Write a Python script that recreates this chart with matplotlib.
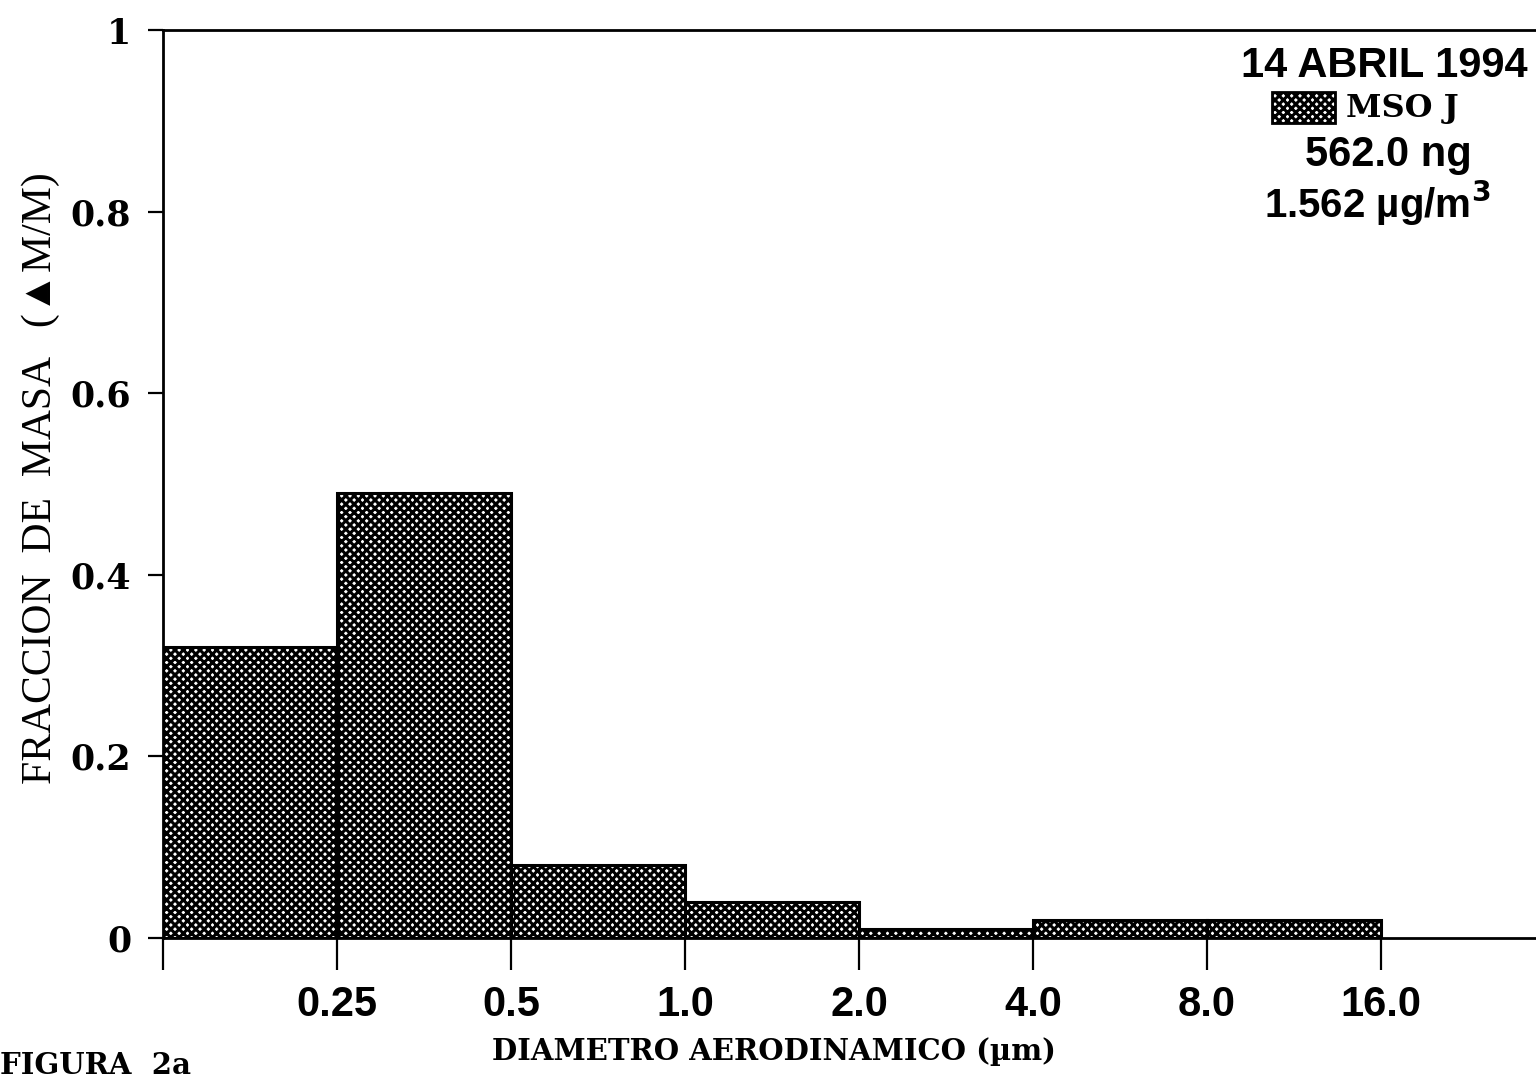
import matplotlib
matplotlib.use("Agg")
import matplotlib.pyplot as plt
from matplotlib.patches import Rectangle

# Data
bin_edges = [0.125, 0.25, 0.5, 1.0, 2.0, 4.0, 8.0, 16.0]
mass_fraction = [0.32, 0.49, 0.08, 0.04, 0.01, 0.02, 0.02]
xtick_vals = [0.125, 0.25, 0.5, 1.0, 2.0, 4.0, 8.0, 16.0]
xtick_labels = ["", "0.25", "0.5", "1.0", "2.0", "4.0", "8.0", "16.0"]
ytick_vals = [0, 0.2, 0.4, 0.6, 0.8, 1.0]
ytick_labels = ["0", "0.2", "0.4", "0.6", "0.8", "1"]

plt.rcParams["hatch.linewidth"] = 2.2
plt.rcParams["hatch.color"] = "black"

SERIF_B = ["DejaVu Serif", "DejaVu Sans"]
SERIF = ["Liberation Serif", "DejaVu Sans"]
SANS = ["Liberation Sans", "DejaVu Sans"]

fig = plt.figure(figsize=(15.36, 10.89), dpi=100)
ax = fig.add_axes([163/1536, 1 - 938/1089, 1 - 163/1536, (938 - 30)/1089])

ax.set_xscale("log", base=2)
lefts = bin_edges[:-1]
widths = [bin_edges[i+1] - bin_edges[i] for i in range(len(lefts))]
ax.bar(lefts, mass_fraction, width=widths, align="edge", facecolor="white",
       edgecolor="black", linewidth=2.2, hatch="xxxx", zorder=2)

ax.set_xlim(0.125, 2 ** 4.89)
ax.set_ylim(0, 1)

ax.spines["right"].set_visible(False)
for s in ["left", "top", "bottom"]:
    ax.spines[s].set_linewidth(2.0)

ax.set_xticks(xtick_vals)
ax.set_xticklabels(xtick_labels, fontfamily=SANS, fontweight="bold", fontsize=30)
ax.xaxis.set_minor_locator(matplotlib.ticker.NullLocator())
ax.set_yticks(ytick_vals)
ax.set_yticklabels(ytick_labels, fontfamily=SERIF_B, fontweight="bold", fontsize=25)
ax.tick_params(axis="x", direction="out", length=23, width=1.6, pad=11)
ax.tick_params(axis="y", direction="out", length=11, width=1.6, pad=12)

ax.set_ylabel("FRACCION  DE  MASA   (▲M/M)", fontfamily=SERIF, fontsize=30)
ax.yaxis.set_label_coords(-(163 - 60) / (1536 - 163), (938 - 478) / 908)
fig.text(774/1536, 1 - 1052/1089, "DIAMETRO AERODINAMICO (µm)", fontfamily=SERIF_B,
         fontweight="bold", fontsize=21, ha="center", va="center")
fig.text(0.0, 1 - 1066/1089, "FIGURA  2a", fontfamily=SERIF_B, fontweight="bold",
         fontsize=21, ha="left", va="center")

# Legend-style annotation block
fig.text(1384/1536, 1 - 66/1089, "14 ABRIL 1994", fontfamily=SANS, fontweight="bold",
         fontsize=30, ha="center", va="center")
fig.patches.append(Rectangle((1272/1536, 1 - 123/1089), 63/1536, 31/1089,
                             transform=fig.transFigure, facecolor="white",
                             edgecolor="black", linewidth=2.0, hatch="xxxx"))
fig.text(1346/1536, 1 - 108/1089, "MSO J", fontfamily=SERIF_B, fontweight="bold",
         fontsize=23, ha="left", va="center")
fig.text(1388/1536, 1 - 155/1089, "562.0 ng", fontfamily=SANS, fontweight="bold",
         fontsize=30, ha="center", va="center")
fig.text(1377/1536, 1 - 203/1089, "1.562 µg/m$^{\\mathbf{3}}$", fontfamily=SANS, fontweight="bold",
         fontsize=29, ha="center", va="center")

fig.savefig("out.png", dpi=100)
